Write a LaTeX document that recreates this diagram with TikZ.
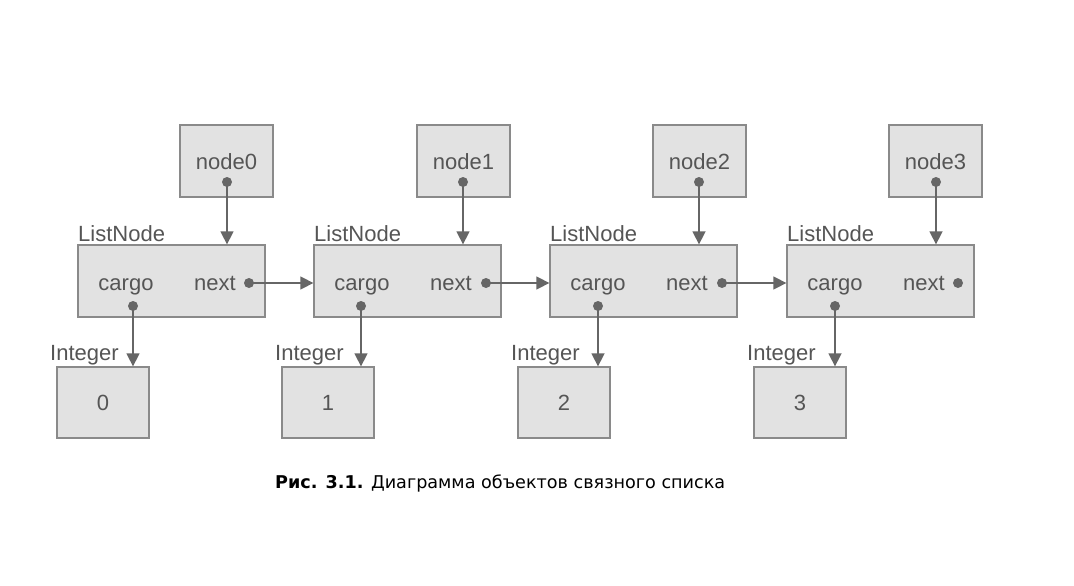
\documentclass[tikz,border=0pt]{standalone}
\usepackage{fontspec}
\setmainfont{Liberation Sans}
\newfontfamily\capfont{DejaVu Sans}
\usetikzlibrary{arrows.meta}
\definecolor{boxfill}{HTML}{E2E2E2}
\definecolor{boxdraw}{HTML}{8A8A8A}
\definecolor{txt}{HTML}{555555}
\definecolor{ln}{HTML}{666666}
\tikzset{
  box/.style={draw=boxdraw, fill=boxfill, line width=1.3pt, inner sep=0pt},
  lbl/.style={text=txt, font=\fontsize{22}{26}\selectfont, inner sep=0pt},
  ptr/.style={draw=ln, line width=1.5pt, -{Triangle[length=13pt,width=13pt]}},
  dot/.style={circle, fill=ln, minimum size=10pt, inner sep=0pt},
}
\begin{document}
\begin{tikzpicture}[x=1pt,y=-1pt]
\useasboundingbox[fill=white] (0,0) rectangle (1074,586);
% variable boxes
\foreach \i/\xl in {0/180,1/417,2/653,3/889}{
  \node[box, minimum width=93pt, minimum height=72pt] (v\i) at (\xl+46.5,161) {};
  \node[lbl, anchor=base] (vt\i) at (\xl+46.5,169) {node\i};
}
% ListNode boxes
\foreach \i/\xl in {0/78,1/314,2/550,3/787}{
  \node[box, minimum width=187pt, minimum height=72pt] (l\i) at (\xl+93.5,281) {};
  \node[lbl, anchor=west] (lt\i) at (\xl,234) {ListNode};
  \node[lbl, anchor=base] (lc\i) at (\xl+48,290) {cargo};
  \node[lbl, anchor=base] (ln\i) at (\xl+137,290) {next};
}
% Integer boxes
\foreach \i/\xl in {0/57,1/282,2/518,3/754}{
  \node[box, minimum width=92pt, minimum height=71pt] (int\i) at (\xl+46,402.5) {};
  \node[lbl] (it\i) at (\xl+46,403) {\i};
  \node[lbl, anchor=west] (il\i) at (\xl-7,355) {Integer};
}
% dots
\foreach \i/\x in {0/227,1/463,2/699,3/936}{
  \node[dot] (vd\i) at (\x,182) {};
}
\foreach \i/\x in {0/133,1/361,2/598,3/835}{
  \node[dot] (cd\i) at (\x,306) {};
}
\foreach \i/\x in {0/249,1/486,2/722,3/958}{
  \node[dot] (nd\i) at (\x,283) {};
}
% pointers
\foreach \i in {0,1,2,3}{
  \draw[ptr] (vd\i.center) -- (vd\i.center |- l\i.north);
  \draw[ptr] (cd\i.center) -- (cd\i.center |- int\i.north);
}
\draw[ptr] (nd0.center) -- (nd0.center -| l1.west);
\draw[ptr] (nd1.center) -- (nd1.center -| l2.west);
\draw[ptr] (nd2.center) -- (nd2.center -| l3.west);
% caption
\node[anchor=west, inner sep=0pt, font=\capfont\fontsize{17.6}{20}\selectfont] (cap) at (275,483)
  {\textbf{Рис. 3.1.} Диаграмма объектов связного списка};
\end{tikzpicture}
\end{document}
